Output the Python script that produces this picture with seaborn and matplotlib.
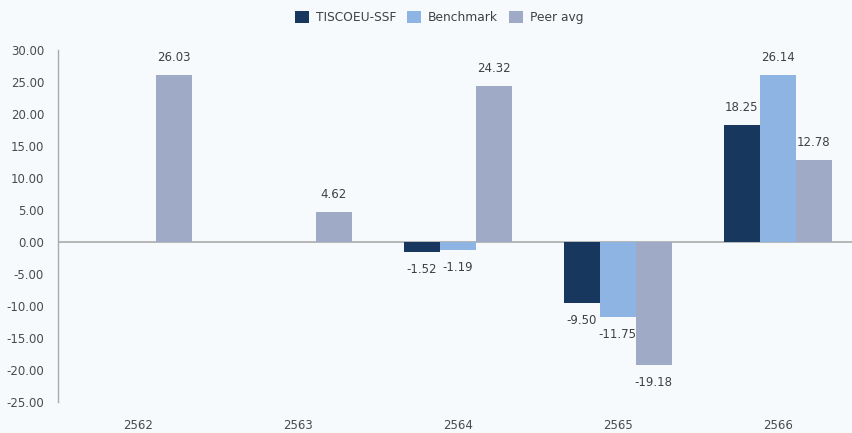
import numpy as np
import pandas as pd
import matplotlib
matplotlib.use("Agg")
import matplotlib.pyplot as plt
from matplotlib.patches import Patch
import seaborn as sns

years = ["2562", "2563", "2564", "2565", "2566"]
series = ["TISCOEU-SSF", "Benchmark", "Peer avg"]
fund = [np.nan, np.nan, -1.52, -9.50, 18.25]
benchmark = [np.nan, np.nan, -1.19, -11.75, 26.14]
peer = [26.03, 4.62, 24.32, -19.18, 12.78]
colors = ["#17375E", "#8DB4E2", "#9FAAC7"]
yticks = [30, 25, 20, 15, 10, 5, 0, -5, -10, -15, -20, -25]
ytick_labels = ["30.00", "25.00", "20.00", "15.00", "10.00", "5.00", "0.00",
                "-5.00", "-10.00", "-15.00", "-20.00", "-25.00"]

rows = []
for s, vals in zip(series, [fund, benchmark, peer]):
    for y, v in zip(years, vals):
        rows.append({"year": y, "series": s, "value": v})
df = pd.DataFrame(rows)

sns.set_theme(style="white")
plt.rcParams['font.family'] = ['DejaVu Sans']
bg = "#F7FAFD"
fig = plt.figure(figsize=(8.53, 4.33), dpi=100, facecolor=bg)
ax = fig.add_axes([58/853, 1 - 402/433, 795/853, 352/433])
ax.set_facecolor(bg)

sns.barplot(data=df, x="year", y="value", hue="series", order=years,
            hue_order=series, palette=colors, width=0.675, ax=ax,
            edgecolor="none", linewidth=0, legend=False, errorbar=None,
            saturation=1)

for cont in ax.containers:
    ax.bar_label(cont, fmt="%.2f", padding=8, fontsize=8.5, color="#404040")

ax.set_ylim(-25, 30)
ax.set_xlim(-0.5, 4.47)
ax.set_yticks(yticks)
ax.set_yticklabels(ytick_labels)
ax.axhline(0, color="#AAAAAA", lw=1.2, zorder=0)
for sp in ["top", "right", "bottom"]:
    ax.spines[sp].set_visible(False)
ax.spines["left"].set_color("#AAAAAA")
ax.spines["left"].set_linewidth(1.0)
ax.tick_params(axis="y", length=0, pad=10, labelsize=8.5, labelcolor="#4A4A4A")
ax.tick_params(axis="x", length=0, pad=12, labelsize=8.5, labelcolor="#4A4A4A")
ax.set_xlabel("")
ax.set_ylabel("")

handles = [Patch(facecolor=c, edgecolor="none") for c in colors]
fig.legend(handles, series, loc="upper center", bbox_to_anchor=(0.515, 1.0),
           ncol=3, frameon=False, fontsize=8.8, handlelength=1.1,
           handleheight=1.1, handletextpad=0.6, columnspacing=0.9,
           labelcolor="#404040")

fig.savefig("out.png", dpi=100, facecolor=bg)
